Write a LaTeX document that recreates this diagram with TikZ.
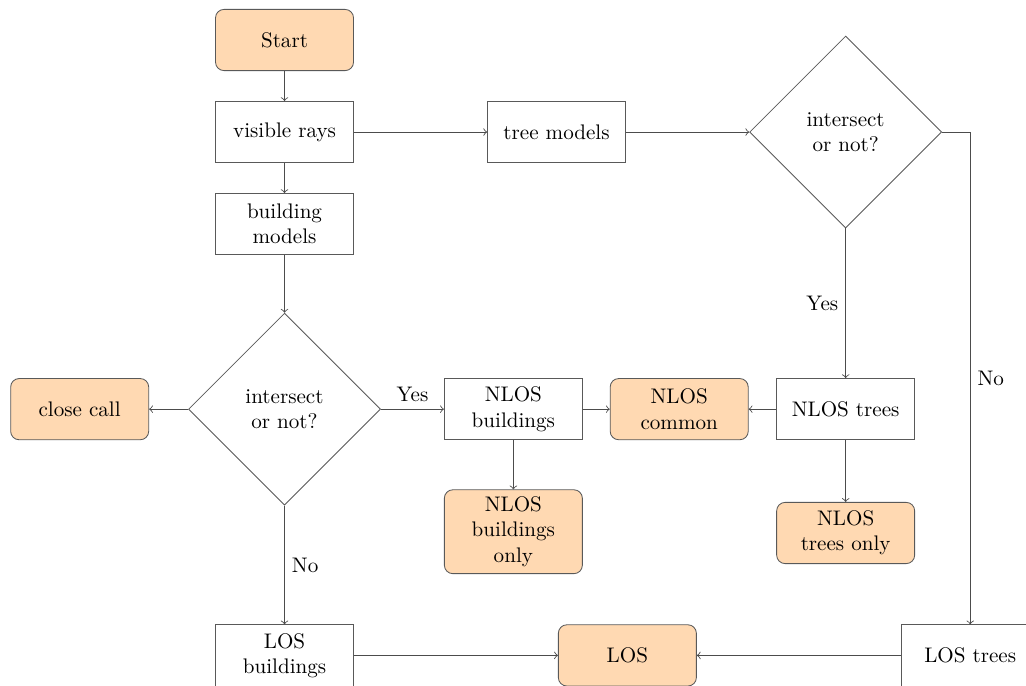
\documentclass[tikz,border=0pt]{standalone}
\usepackage{amsmath}
\usepackage{tikz}
\usetikzlibrary{positioning, arrows, shapes.geometric}
\usepackage{xcolor}

\tikzset{
	startstop/.style={rectangle, rounded corners, minimum width=2.3cm, minimum height=1.02cm, text width=1.6cm, align=center, draw=black!65, fill=orange!30},
	process/.style={rectangle, minimum width=2.3cm, minimum height=1.02cm, text width=2cm, align=center, draw=black!65},
	decision/.style={diamond, minimum width=3.2cm, minimum height=3.2cm, text width=1.5cm, align=center, inner sep=0pt, draw=black!65},
	arrow/.style={->, draw=black!70}
}

\begin{document}
\begin{tikzpicture}
		\useasboundingbox (0,0) rectangle (17.1,-11.433);
		\clip (0,0) rectangle (17.1,-11.433);
		
		\node[startstop] (start) at (4.742,-0.667) {Start};
		\node[process, below=0.5cm of start] (visible) {visible rays};
		\node[process, below=0.5cm of visible] (building) {building models};
		\node[decision, below=0.96cm of building] (dec1) {intersect or not?};
		\node[startstop, left=0.65cm of dec1] (close) {close call};
		\node[process, right=1.05cm of dec1] (nlosb) {NLOS buildings};
		\node[startstop, right=0.45cm of nlosb] (nlosc) {NLOS common};
		\node[process, right=0.46cm of nlosc] (nlost) {NLOS trees};
		\node[startstop, below=0.82cm of nlosb] (nlosbo) {NLOS buildings only};
		\node[startstop, below=1.03cm of nlost] (nlosto) {NLOS trees only};
		\node[process, right=2.22cm of visible] (tree) {tree models};
		\node[decision] (dec2) at (nlost |- tree) {intersect or not?};
		\node[process, below=1.98cm of dec1] (losb) {LOS buildings};
		\node[startstop, right=3.4cm of losb] (los) {LOS};
		\node[process, right=3.4cm of los] (lost) {LOS trees};
		
		
		\draw[arrow] (start) -- (visible);
		\draw[arrow] (visible) -- (building);
		\draw[arrow] (visible) -- (tree);
		\draw[arrow] (tree) -- (dec2);
		\draw[arrow] (building) -- (dec1);
		\draw[arrow] (dec1) -- (close);
		\draw[arrow] (dec1) -- node[above]{Yes} (nlosb);
		\draw[arrow] (dec1) -- node[right]{No} (losb);
		\draw[arrow] (nlosb) -- (nlosc);
		\draw[arrow] (nlost) -- (nlosc);
		\draw[arrow] (nlosb) -- (nlosbo);
		\draw[arrow] (nlost) -- (nlosto);
		\draw[arrow] (dec2) -- node[left]{Yes} (nlost);
		\draw[arrow] (dec2.east) -| node[pos=0.75, right]{No} (lost.north);
		\draw[arrow] (losb) -- (los);
		\draw[arrow] (lost) -- (los);
	\end{tikzpicture}
\end{document}
